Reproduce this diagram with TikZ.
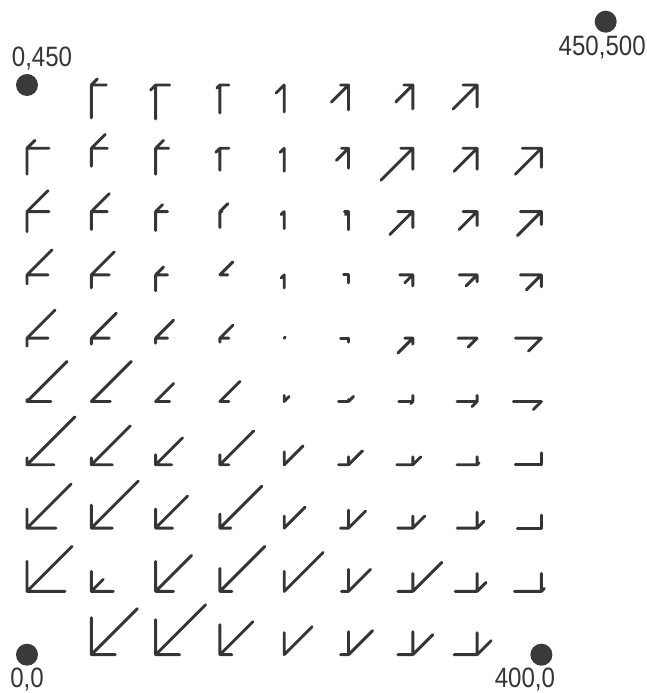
\documentclass[tikz,border=0pt]{standalone}
\usepackage{fontspec}
\setmainfont{Liberation Sans}[FakeStretch=0.86]
\usepackage{xcolor}
\usepackage{tikz}
\usetikzlibrary{positioning}
\definecolor{grisTinta}{HTML}{353535}
\definecolor{grisPunto}{HTML}{3A3A3A}

\begin{document}
\begin{tikzpicture}[
    x=1.286pt, y=1.266pt,
    trazo/.style={
        draw=grisTinta,
        line width=2.9pt,
        line cap=round,
        line join=round,
    },
    punto/.style={
        circle,
        fill=grisPunto,
        inner sep=0pt,
        minimum size=22pt,
    },
    rotulo/.style={
        inner sep=0pt,
        text height=20pt,
        text depth=4pt,
        font=\fontsize{28pt}{30pt}\selectfont,
        text=grisTinta,
    },
]
\useasboundingbox (-27pt,-38.3pt) rectangle (620pt,654.7pt);

\node[punto] (p0450)   at (0,450)   {};
\node[punto] (p450500) at (450,500) {};
\node[punto] (p00)     at (0,0)     {};
\node[punto] (p4000)   at (400,0)   {};

\node[rotulo, above=3pt of p0450, xshift=15pt]       {0,450};
\node[rotulo, below=2.5pt of p450500, xshift=-3.5pt] {450,500};
\node[rotulo, below=1.5pt of p00]                    {0,0};
\node[rotulo, below=1.5pt of p4000, xshift=-16.5pt]  {400,0};

\foreach \x/\y/\h/\v/\d in {
    50/450/15/-33/6, 100/450/14/-34/-5, 150/450/9/-28/-3, 200/450/0/-27/-8,
    250/450/-8/-25/-17, 300/450/-9/-24/-17, 350/450/-14/-22/-24,
    0/400/22/-26/8, 50/400/16/-18/14, 100/400/13/-26/8, 150/400/9/-22/-4,
    200/400/0/-23/-4, 250/400/-7/-20/-12, 300/400/-12/-21/-32,
    350/400/-14/-21/-23, 400/400/-19/-19/-26,
    0/350/22/-20/21, 50/350/16/-18/18, 100/350/12/-19/7, 150/350/2/-16/8,
    200/350/0/-17/-3, 250/350/-4/-18/-3, 300/350/-15/-16/-23,
    350/350/-14/-14/-18, 400/350/-21/-13/-24,
    0/300/21/-9/25, 50/300/18/-13/23, 100/300/12/-16/8, 150/300/8/0/13,
    200/300/0/-13/-3, 250/300/-5/-8/0, 300/300/-13/-11/-8,
    350/300/-18/-7/-11, 400/300/-21/-12/-15,
    0/250/21/-8/28, 50/250/18/-6/25, 100/250/12/-5/18, 150/250/9/-4/13,
    200/250/0/0/1, 250/250/-8/-4/0, 300/250/-8/-6/-15,
    350/250/-19/0/-9, 400/250/-26/0/-13,
    0/200/24/2/40, 50/200/19/0/40, 100/200/14/0/18, 150/200/9/0/20,
    200/200/0/6/5, 250/200/-10/2/5, 300/200/-14/6/-2,
    350/200/-20/6/-5, 400/200/-28/0/-8,
    0/150/27/7/48, 50/150/21/7/39, 100/150/16/10/27, 150/150/9/10/34,
    200/150/0/13/19, 250/150/-10/8/14, 300/150/-16/8/8,
    350/150/-20/8/2, 400/150/-26/12/0,
    0/100/29/19/44, 50/100/21/23/47, 100/100/17/19/32, 150/100/11/14/42,
    200/100/0/12/21, 250/100/-8/18/17, 300/100/-15/12/12,
    350/100/-20/16/7, 400/100/-24/13/0,
    0/50/38/30/45, 50/50/22/20/12, 100/50/18/30/36, 150/50/12/23/45,
    200/50/0/20/39, 250/50/-7/22/22, 300/50/-15/18/29,
    350/50/-22/18/9, 400/50/-27/18/3,
    50/0/24/37/46, 100/0/24/35/50, 150/0/12/30/33, 200/0/0/22/28,
    250/0/-8/23/24, 300/0/-15/23/20, 350/0/-23/22/14}
{
    \draw[trazo] (\x,\y) ++(\h pt,0) -- (\x,\y) -- ++(0,\v pt)
                 (\x,\y) -- ++(\d pt,\d pt);
}

\end{tikzpicture}
\end{document}
